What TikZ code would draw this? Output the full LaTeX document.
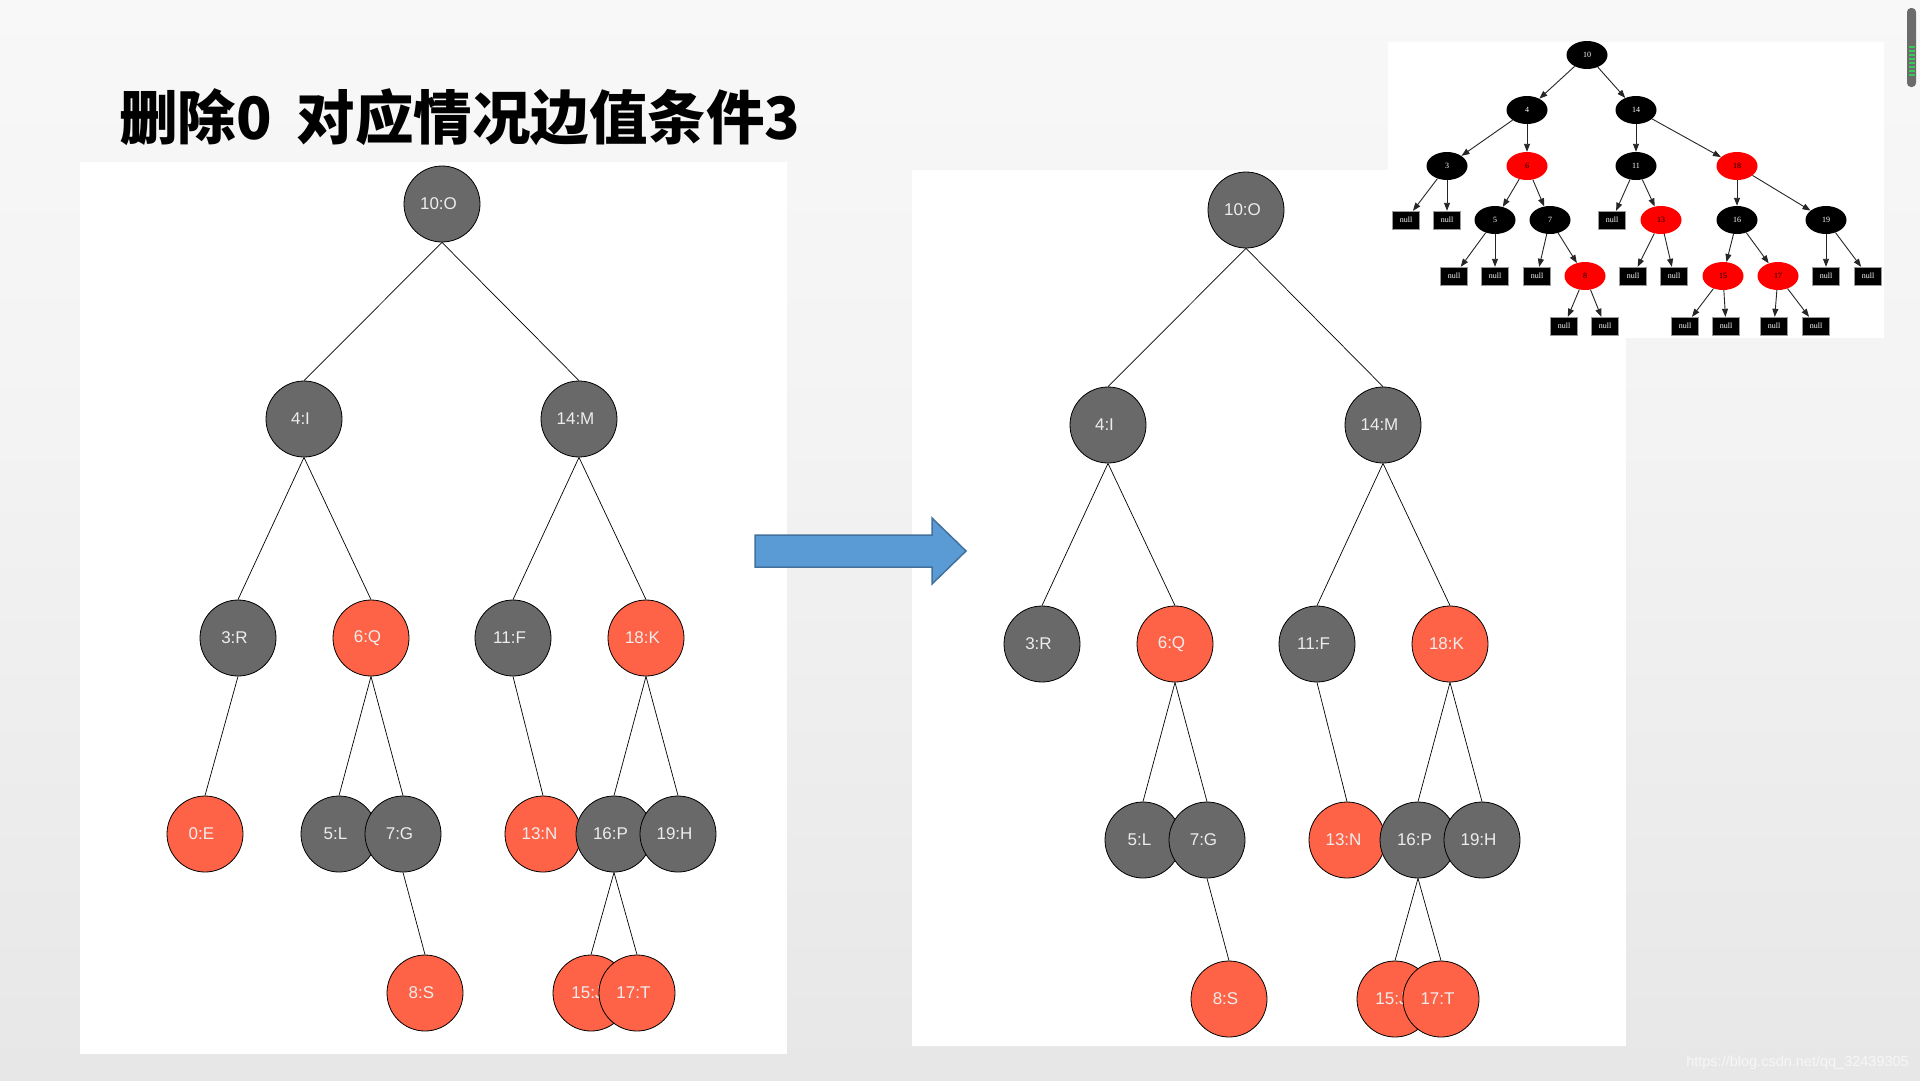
\documentclass[tikz,border=0pt]{standalone}
\usepackage{fontspec}
\setsansfont{Liberation Sans}
\newfontfamily\cjk{Noto Sans CJK SC}
\newfontfamily\tms{Liberation Serif}
\usetikzlibrary{shapes.geometric,arrows.meta}
\definecolor{gnode}{HTML}{696969}
\definecolor{rnode}{HTML}{FF6347}
\definecolor{bgbot}{HTML}{DCDCDC}
\definecolor{bgmid}{HTML}{E9E9E9}
\definecolor{bgmid2}{HTML}{F3F3F3}
\definecolor{bgtop}{HTML}{FEFEFE}
\definecolor{arrfill}{HTML}{5B9BD5}
\definecolor{arrline}{HTML}{41719C}
\definecolor{gvred}{HTML}{FF0000}
\definecolor{sbgreen}{HTML}{33CC55}
\pgfdeclareverticalshading{slidebg}{100bp}{color(0bp)=(bgbot); color(30bp)=(bgmid); color(55bp)=(bgmid2); color(100bp)=(bgtop)}
\tikzset{
  tn/.style={circle, draw=black, line width=0.8pt, minimum size=76pt, inner sep=0pt,
    text=white!93!black, font=\sffamily\fontsize{17}{17}\selectfont,
    execute at end node={\hspace*{7pt}}},
  gn/.style={tn, fill=gnode},
  rn/.style={tn, fill=rnode},
  tedge/.style={line width=0.7pt, draw=black},
  sn/.style={ellipse, minimum width=41pt, minimum height=28pt, inner sep=0pt,
    font=\tms\fontsize{8}{8}\selectfont},
  sblack/.style={sn, fill=black, text=white},
  sred/.style={sn, fill=gvred, text=black},
  snull/.style={rectangle, minimum width=27pt, minimum height=18pt, inner sep=0pt,
    fill=black, draw=black!40, line width=0.4pt, text=white, font=\tms\fontsize{8}{8}\selectfont},
  sedge/.style={line width=0.9pt, draw=black!85, -{Triangle[length=8pt,width=6pt]}},
}
\begin{document}
\begin{tikzpicture}[x=1pt,y=-1pt]
\useasboundingbox (0,0) rectangle (1920,1080);
% slide background
\shade[shading=slidebg] (0,0) rectangle (1920,1080);
% title
\node[anchor=west, inner sep=0pt, font=\cjk\bfseries\fontsize{58.5}{58.5}\selectfont] (title) at (119,117) {删除0\hspace{25pt}对应情况边值条件3};
% panels
\fill[white] (80,162) rectangle (787,1054);
\fill[white] (912,170) rectangle (1626,1046);
\fill[white] (1388,42) rectangle (1884,338);

% ---------- left tree ----------
\node[gn] (L10) at (442,204) {10:O};
\node[gn] (L4) at (304,419) {4:I};
\node[gn] (L14) at (579,419) {14:M};
\node[gn] (L3) at (238,638) {3:R};
\node[rn] (L6) at (371,638) {6:Q};
\node[gn] (L11) at (513,638) {11:F};
\node[rn] (L18) at (646,638) {18:K};
\node[rn] (L0) at (205,834) {0:E};
\node[gn] (L5) at (339,834) {5:L};
\node[gn] (L7) at (403,834) {7:G};
\node[rn] (L13) at (543,834) {13:N};
\node[gn] (L16) at (614,834) {16:P};
\node[gn] (L19) at (678,834) {19:H};
\node[rn] (L8) at (425,993) {8:S};
\node[rn] (L15) at (591,993) {15:J};
\node[rn] (L17) at (637,993) {17:T};
\foreach \a/\b in {L10/L4,L10/L14,L4/L3,L4/L6,L14/L11,L14/L18,L3/L0,L6/L5,L6/L7,L11/L13,L18/L16,L18/L19,L7/L8,L16/L15,L16/L17}
  \draw[tedge] (\a.south) -- (\b.north);

% ---------- arrow ----------
\filldraw[fill=arrfill, draw=arrline, line width=1.5pt, line join=miter]
  (755,535) -- (932,535) -- (932,518) -- (966,551) -- (932,584) -- (932,567) -- (755,567) -- cycle;

% ---------- right tree ----------
\node[gn] (R10) at (1246,210) {10:O};
\node[gn] (R4) at (1108,425) {4:I};
\node[gn] (R14) at (1383,425) {14:M};
\node[gn] (R3) at (1042,644) {3:R};
\node[rn] (R6) at (1175,644) {6:Q};
\node[gn] (R11) at (1317,644) {11:F};
\node[rn] (R18) at (1450,644) {18:K};
\node[gn] (R5) at (1143,840) {5:L};
\node[gn] (R7) at (1207,840) {7:G};
\node[rn] (R13) at (1347,840) {13:N};
\node[gn] (R16) at (1418,840) {16:P};
\node[gn] (R19) at (1482,840) {19:H};
\node[rn] (R8) at (1229,999) {8:S};
\node[rn] (R15) at (1395,999) {15:J};
\node[rn] (R17) at (1441,999) {17:T};
\foreach \a/\b in {R10/R4,R10/R14,R4/R3,R4/R6,R14/R11,R14/R18,R6/R5,R6/R7,R11/R13,R18/R16,R18/R19,R7/R8,R16/R15,R16/R17}
  \draw[tedge] (\a.south) -- (\b.north);

% ---------- small graphviz tree ----------
\node[sblack] (s10) at (1587,55) {10};
\node[sblack] (s4) at (1527,110) {4};
\node[sblack] (s14) at (1636,110) {14};
\node[sblack] (s3) at (1447,166) {3};
\node[sred] (s6) at (1527,166) {6};
\node[sblack] (s11) at (1636,166) {11};
\node[sred] (s18) at (1737,166) {18};
\node[snull] (n1) at (1406,220) {null};
\node[snull] (n2) at (1447,220) {null};
\node[sblack] (s5) at (1495,220) {5};
\node[sblack] (s7) at (1550,220) {7};
\node[snull] (n3) at (1612,220) {null};
\node[sred] (s13) at (1661,220) {13};
\node[sblack] (s16) at (1737,220) {16};
\node[sblack] (s19) at (1826,220) {19};
\node[snull] (n4) at (1454,276) {null};
\node[snull] (n5) at (1495,276) {null};
\node[snull] (n6) at (1537,276) {null};
\node[sred] (s8) at (1585,276) {8};
\node[snull] (n7) at (1633,276) {null};
\node[snull] (n8) at (1674,276) {null};
\node[sred] (s15) at (1723,276) {15};
\node[sred] (s17) at (1778,276) {17};
\node[snull] (n9) at (1826,276) {null};
\node[snull] (n10) at (1868,276) {null};
\node[snull] (n11) at (1564,326) {null};
\node[snull] (n12) at (1605,326) {null};
\node[snull] (n13) at (1685,326) {null};
\node[snull] (n14) at (1726,326) {null};
\node[snull] (n15) at (1774,326) {null};
\node[snull] (n16) at (1816,326) {null};
\foreach \a/\b in {s10/s4,s10/s14,s4/s3,s4/s6,s14/s11,s14/s18,s3/n1,s3/n2,s6/s5,s6/s7,s11/n3,s11/s13,s18/s16,s18/s19,s5/n4,s5/n5,s7/n6,s7/s8,s13/n7,s13/n8,s16/s15,s16/s17,s19/n9,s19/n10,s8/n11,s8/n12,s15/n13,s15/n14,s17/n15,s17/n16}
  \draw[sedge] (\a) -- (\b);

% ---------- scrollbar ----------
\fill[black!58, rounded corners=4pt] (1907,8) rectangle (1916,87);
\foreach \yy in {47,51,55,59,63,67,71,75}
  \draw[sbgreen, line width=1.8pt] (1908.5,\yy) -- (1914.5,\yy);

% ---------- watermark ----------
\node[anchor=base east, inner sep=0pt, text=white!97!black, font=\sffamily\fontsize{14.5}{14.5}\selectfont] (wm) at (1909,1066) {https://blog.csdn.net/qq\_32439305};
\end{tikzpicture}
\end{document}
